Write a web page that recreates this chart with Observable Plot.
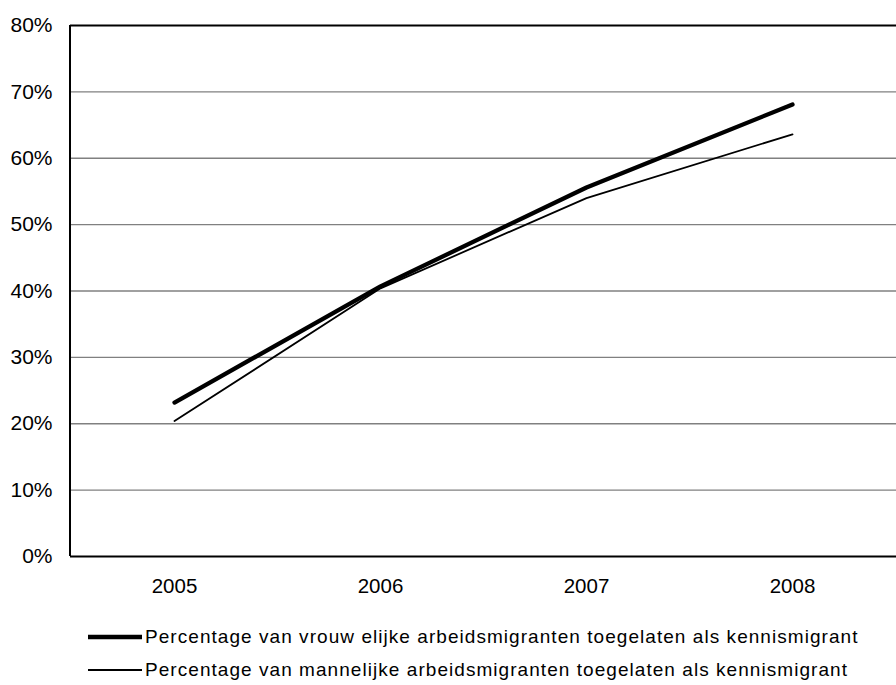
<!DOCTYPE html>
<html>
<head>
<meta charset="utf-8">
<script src="https://cdn.jsdelivr.net/npm/d3@7"></script>
<script src="https://cdn.jsdelivr.net/npm/@observablehq/plot@0.6"></script>
<style>
  body { margin: 0; background: #fff; font-family: "Liberation Sans", Arial, sans-serif; }
  #wrap { width: 896px; }
  .legend { position: relative; height: 85px; font-size: 19px; letter-spacing: 1.05px; color: #000; }
  .row { position: absolute; left: 88px; display: flex; align-items: center; height: 24px; white-space: nowrap; }
  .row .sw { width: 54px; margin-right: 3px; }
</style>
</head>
<body>
<div id="wrap"></div>
<script>
const years = ["2005", "2006", "2007", "2008"];
const women = [23.2, 40.7, 55.6, 68.1];
const men = [20.4, 40.4, 54.0, 63.6];
const yTicks = [0, 10, 20, 30, 40, 50, 60, 70, 80];
const seriesNames = [
  "Percentage van vrouw elijke arbeidsmigranten toegelaten als kennismigrant",
  "Percentage van mannelijke arbeidsmigranten toegelaten als kennismigrant"
];

const womenData = years.map((y, i) => ({year: y, value: women[i]}));
const menData = years.map((y, i) => ({year: y, value: men[i]}));

const chart = Plot.plot({
  width: 896,
  height: 600,
  marginLeft: 70,
  marginRight: 0,
  marginTop: 25,
  marginBottom: 44,
  style: {fontFamily: "'Liberation Sans', Arial, sans-serif", fontSize: "21px", color: "#000", background: "#fff"},
  x: {type: "point", domain: years, padding: 0.5, label: null},
  y: {domain: [0, 80], label: null},
  marks: [
    Plot.ruleY(yTicks.filter(d => d > 0 && d < 80), {stroke: "#808080", strokeWidth: 1.3}),
    Plot.ruleY([80], {stroke: "#000", strokeWidth: 2}),
    Plot.ruleY([0], {stroke: "#000", strokeWidth: 2}),
    Plot.axisY({ticks: yTicks, tickSize: 0, tickPadding: 18, tickFormat: d => d + "%", fontSize: 21}),
    Plot.axisX({tickSize: 0, tickPadding: 22, fontSize: 20.5}),
    Plot.line(menData, {x: "year", y: "value", stroke: "#000", strokeWidth: 1.8}),
    Plot.line(womenData, {x: "year", y: "value", stroke: "#000", strokeWidth: 4.3, strokeLinecap: "round"})
  ]
});

const wrap = document.getElementById("wrap");
wrap.appendChild(chart);

// left side of the plot frame
d3.select(chart).append("line")
  .attr("x1", 70).attr("x2", 70).attr("y1", 25).attr("y2", 556)
  .attr("stroke", "#000").attr("stroke-width", 2);

const legend = document.createElement("div");
legend.className = "legend";
[[4.3, 25], [1.8, 58]].forEach(([w, top], i) => {
  const row = document.createElement("div");
  row.className = "row";
  row.style.top = top + "px";
  row.innerHTML = `<svg class="sw" width="54" height="10"><line x1="0" x2="54" y1="5" y2="5" stroke="#000" stroke-width="${w}"/></svg><span>${seriesNames[i]}</span>`;
  legend.appendChild(row);
});
wrap.appendChild(legend);
</script>
</body>
</html>
